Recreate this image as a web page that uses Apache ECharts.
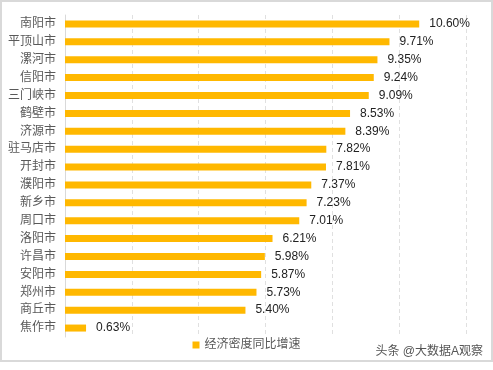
<!DOCTYPE html>
<html><head><meta charset="utf-8">
<script src="https://cdn.jsdelivr.net/npm/echarts@6/dist/echarts.min.js"></script>
<style>html,body{margin:0;padding:0;background:#fff}
#c{position:absolute;left:0;top:0;width:493px;height:370px}
#f{position:absolute;left:0;top:0;width:493px;height:362px;box-sizing:border-box;border:2px solid #d9d9d9;pointer-events:none}</style>
</head><body><div id="c"></div><div id="f"></div>
<script>
const categories = ['南阳市','平顶山市','漯河市','信阳市','三门峡市','鹤壁市','济源市','驻马店市','开封市','濮阳市','新乡市','周口市','洛阳市','许昌市','安阳市','郑州市','商丘市','焦作市'];
const values = [10.60,9.71,9.35,9.24,9.09,8.53,8.39,7.82,7.81,7.37,7.23,7.01,6.21,5.98,5.87,5.73,5.40,0.63];
const seriesName = '经济密度同比增速';
const watermark = '头条 @大数据A观察';
const font = '"Liberation Sans","Noto Sans CJK SC",sans-serif';
const chart = echarts.init(document.getElementById('c'), null, {renderer:'canvas'});
chart.setOption({
  animation:false,
  textStyle:{fontFamily:font},
  grid:{left:65,right:27,top:15,bottom:33},
  legend:{top:334,left:'center',itemWidth:7,itemHeight:7,itemGap:4,icon:'rect',
    textStyle:{fontSize:12,color:'#595959',fontFamily:font},data:[seriesName]},
  graphic:[{type:'text',right:10,top:346,style:{text:watermark,fontSize:12,fill:'#555',fontFamily:font}}],
  xAxis:{type:'value',min:0,max:12,interval:2,axisLabel:{show:false},axisLine:{show:false},axisTick:{show:false},
    splitLine:{show:true,lineStyle:{color:'#e0e0e0',type:[4,3]}}},
  yAxis:{type:'category',inverse:true,data:categories,axisTick:{show:false},
    axisLine:{lineStyle:{color:'#d9d9d9'}},
    axisLabel:{fontSize:12,color:'#595959',margin:9,fontFamily:font}},
  series:[{name:seriesName,type:'bar',data:values,barWidth:7,itemStyle:{color:'#FFB800'},
    label:{show:true,position:'right',distance:10,fontSize:12,color:'#222',fontFamily:font,
      formatter:p=>p.value.toFixed(2)+'%'}}]
});
</script></body></html>
